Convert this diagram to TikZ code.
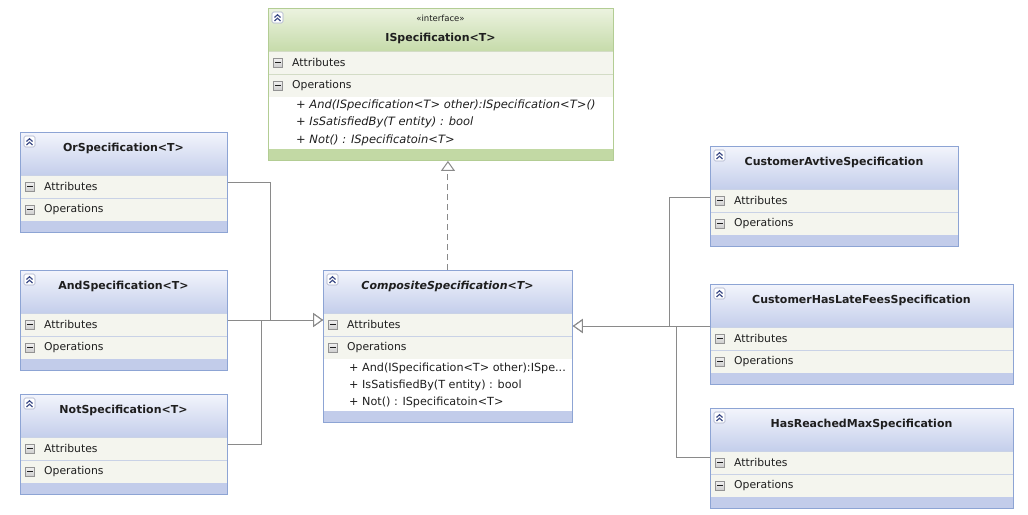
\documentclass[tikz,border=0pt]{standalone}
\usepackage{fontspec}
\setmainfont{DejaVu Sans}
\usetikzlibrary{arrows.meta,positioning}

\definecolor{txt}{HTML}{1E1E1E}
\definecolor{bhtop}{HTML}{F3F5FC}
\definecolor{bhbot}{HTML}{C4CEEB}
\definecolor{bbar}{HTML}{C2CCEA}
\definecolor{bborder}{HTML}{8DA4D4}
\definecolor{bsep}{HTML}{C9D2E6}
\definecolor{ghtop}{HTML}{ECF3E0}
\definecolor{ghbot}{HTML}{C6DBAA}
\definecolor{gbar}{HTML}{C2D9A4}
\definecolor{gborder}{HTML}{B3CD94}
\definecolor{gsep}{HTML}{D3DCC6}
\definecolor{rowbg}{HTML}{F4F5EE}
\definecolor{linegray}{HTML}{8A8A8A}
\definecolor{iconblue}{HTML}{3B4A86}

\tikzset{
  every node/.style={font=\fontsize{10.8}{12}\selectfont, text=txt, inner sep=0pt},
  blue head/.style={top color=bhtop, bottom color=bhbot},
  green head/.style={top color=ghtop, bottom color=ghbot},
  blue bar/.style={fill=bbar},
  green bar/.style={fill=gbar},
  blue sep/.style={draw=bsep, line width=0.6pt},
  green sep/.style={draw=gsep, line width=0.6pt},
  blue frame/.style={draw=bborder, line width=0.9pt},
  green frame/.style={draw=gborder, line width=0.9pt},
  titletext/.style={font=\fontsize{11}{12}\selectfont\bfseries},
  opline/.style={anchor=west, font=\fontsize{11.2}{12}\selectfont},
  minusbox/.style={draw=gray!85, top color=gray!10, bottom color=gray!40, line width=0.5pt},
  iconbox/.style={draw=iconblue!45, fill=white, line width=0.6pt, rounded corners=1.5pt},
  conn/.style={draw=linegray, line width=1pt},
  isa/.style={conn, -{Triangle[open, length=10pt, width=14pt, fill=white]}},
  realize/.style={isa, dash pattern=on 6pt off 4pt},
}

% kind, name, x, y, width, height, title dy, title
\newcommand{\umlbox}[8]{%
  \shade[#1 head] (#3,#4) rectangle ++(#5,43);
  \fill[rowbg] (#3,#4+43) rectangle ++(#5,46);
  \draw[#1 sep] (#3,#4+43) -- ++(#5,0) (#3,#4+66) -- ++(#5,0);
  \fill[#1 bar] (#3,#4+#6-11) rectangle ++(#5,11);
  \node[#1 frame, anchor=north west, minimum width=#5pt, minimum height=#6pt] (#2) at (#3,#4) {};
  % collapse icon
  \draw[iconbox] (#3+4,#4+4) rectangle ++(11,11);
  \draw[iconblue, line width=1.2pt]
    (#3+6.5,#4+9.5) -- (#3+9.5,#4+6.7) -- (#3+12.5,#4+9.5)
    (#3+6.5,#4+13) -- (#3+9.5,#4+10.2) -- (#3+12.5,#4+13);
  % compartments
  \draw[minusbox] (#3+5,#4+50) rectangle ++(9.5,9.5);
  \draw[txt, line width=0.9pt] (#3+7,#4+54.75) -- ++(5.5,0);
  \draw[minusbox] (#3+5,#4+73) rectangle ++(9.5,9.5);
  \draw[txt, line width=0.9pt] (#3+7,#4+77.75) -- ++(5.5,0);
  \node[anchor=west] (#2-attr) at (#3+24,#4+54.5) {Attributes};
  \node[anchor=west] (#2-ops) at (#3+24,#4+77.5) {Operations};
  \node[titletext, align=center] (#2-title) at (#3+#5/2,#4+#7) {#8};
}

\begin{document}
\begin{tikzpicture}[x=1pt, y=-1pt]
  \useasboundingbox (0,0) rectangle (1028,514);

  \umlbox{green}{iface}{268}{8}{345}{152}{21.5}{%
    {\fontsize{8.5}{9}\selectfont\mdseries «interface»}\\[8pt]ISpecification<T>}
  \umlbox{blue}{orspec}{20}{132}{207}{100}{16}{OrSpecification<T>}
  \umlbox{blue}{andspec}{20}{270}{207}{100}{16}{AndSpecification<T>}
  \umlbox{blue}{notspec}{20}{394}{207}{100}{16}{NotSpecification<T>}
  \umlbox{blue}{comp}{323}{270}{249}{152}{16}{\itshape CompositeSpecification<T>}
  \umlbox{blue}{avtive}{710}{146}{248}{100}{16}{CustomerAvtiveSpecification}
  \umlbox{blue}{latefees}{710}{284}{303}{100}{16}{CustomerHasLateFeesSpecification}
  \umlbox{blue}{maxspec}{710}{408}{303}{100}{16}{HasReachedMaxSpecification}

  % operation lists
  \node[opline, font=\fontsize{11.5}{12}\selectfont\itshape] (iface-op1) at (296,105)
    {+ And(ISpecification<T> other):ISpecification<T>()};
  \node[opline, font=\fontsize{11.5}{12}\selectfont\itshape] (iface-op2) at (296,122)
    {+ IsSatisfiedBy(T entity) : bool};
  \node[opline, font=\fontsize{11.5}{12}\selectfont\itshape] (iface-op3) at (296,140)
    {+ Not() : ISpecificatoin<T>};
  \node[opline] (comp-op1) at (349,368) {+ And(ISpecification<T> other):ISpe...};
  \node[opline] (comp-op2) at (349,385) {+ IsSatisfiedBy(T entity) : bool};
  \node[opline] (comp-op3) at (349,402) {+ Not() : ISpecificatoin<T>};

  % hubs
  \coordinate (orhub) at (270,320);
  \coordinate (nothub) at (261,320);
  \coordinate (avtivehub) at (669,326);
  \coordinate (maxhub) at (676,326);

  % generalisations
  \draw[isa] ([yshift=-50pt]orspec.north east) -| (orhub) -- ([yshift=-50pt]comp.north west);
  \draw[isa] ([yshift=-50pt]andspec.north east) -- ([yshift=-50pt]comp.north west);
  \draw[isa] ([yshift=-50pt]notspec.north east) -| (nothub) -- ([yshift=-50pt]comp.north west);
  \draw[isa] ([yshift=-51pt]avtive.north west) -| (avtivehub) -- ([yshift=-56pt]comp.north east);
  \draw[isa] ([yshift=-42pt]latefees.north west) -- ([yshift=-56pt]comp.north east);
  \draw[isa] ([yshift=-49pt]maxspec.north west) -| (maxhub) -- ([yshift=-56pt]comp.north east);

  % realisation
  \draw[realize] (comp.north) -- (comp.north |- iface.south);
\end{tikzpicture}
\end{document}
